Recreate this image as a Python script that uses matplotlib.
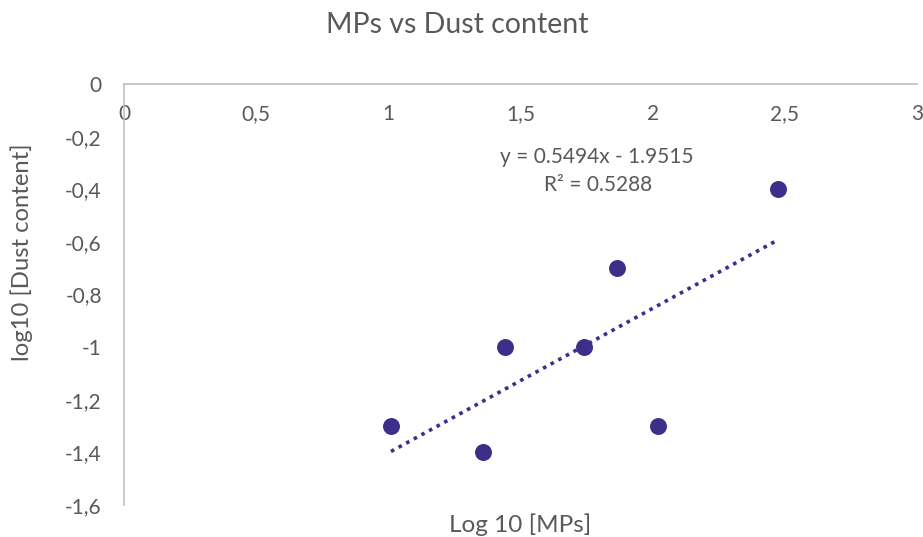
import numpy as np
from matplotlib import pyplot as plt
from matplotlib import ticker

# log10 of MPs and of dust content
log_mps = [1.01, 1.36, 1.44, 1.74, 1.865, 2.02, 2.475]
log_dust = [-1.3, -1.4, -1.0, -1.0, -0.7, -1.3, -0.4]

slope = 0.5494
intercept = -1.9515
r2 = 0.5288

x_ticks = [0, 0.5, 1, 1.5, 2, 2.5, 3]
y_ticks = [0, -0.2, -0.4, -0.6, -0.8, -1, -1.2, -1.4, -1.6]

grey = '#595959'
purple = '#3b2f8a'

plt.rcParams['font.family'] = ['Lato', 'DejaVu Sans']

fig = plt.figure(figsize=(9.23, 5.37), dpi=100)
ax = fig.add_axes([124/923, 32/537, 793/923, 421/537])

ax.scatter(log_mps, log_dust, s=125, color=purple, zorder=3)

xfit = np.array([min(log_mps), max(log_mps)])
ax.plot(xfit, slope*xfit + intercept, color=purple, lw=2.6,
        linestyle=(0, (1, 1.4)), zorder=2)

ax.text(597/923, 1 - 157/537, 'y = 0.5494x - 1.9515', transform=fig.transFigure,
        ha='center', va='center', fontsize=15, color=grey)
ax.text(598/923, 1 - 185/537, 'R² = 0.5288', transform=fig.transFigure,
        ha='center', va='center', fontsize=15, color=grey)

ax.set_xlim(0, 3)
ax.set_ylim(-1.6, 0)
ax.set_xticks(x_ticks)
ax.set_yticks(y_ticks)
comma = ticker.FuncFormatter(lambda v, p: ('%g' % v).replace('.', ','))
ax.xaxis.set_major_formatter(comma)
ax.yaxis.set_major_formatter(comma)

for s in ['right', 'bottom']:
    ax.spines[s].set_visible(False)
for s in ['left', 'top']:
    ax.spines[s].set_color('#c0c0c0')
    ax.spines[s].set_linewidth(1.2)

ax.tick_params(axis='x', top=True, bottom=False, labeltop=True, labelbottom=False,
               length=0, pad=-29, labelsize=15, labelcolor=grey)
ax.tick_params(axis='y', length=0, pad=16, labelsize=15, labelcolor=grey)

ax.set_ylabel('log10 [Dust content]', fontsize=17.2, color=grey)
ax.yaxis.set_label_coords(-0.115, 0.6)

fig.text(520/923, 1/537, 'Log 10 [MPs]', ha='center', va='bottom',
         fontsize=17.5, color=grey)
fig.text(457/923, 1 - 25/537, 'MPs vs Dust content', ha='center', va='center',
         fontsize=20.5, color=grey)

fig.savefig('out.png', dpi=100)
